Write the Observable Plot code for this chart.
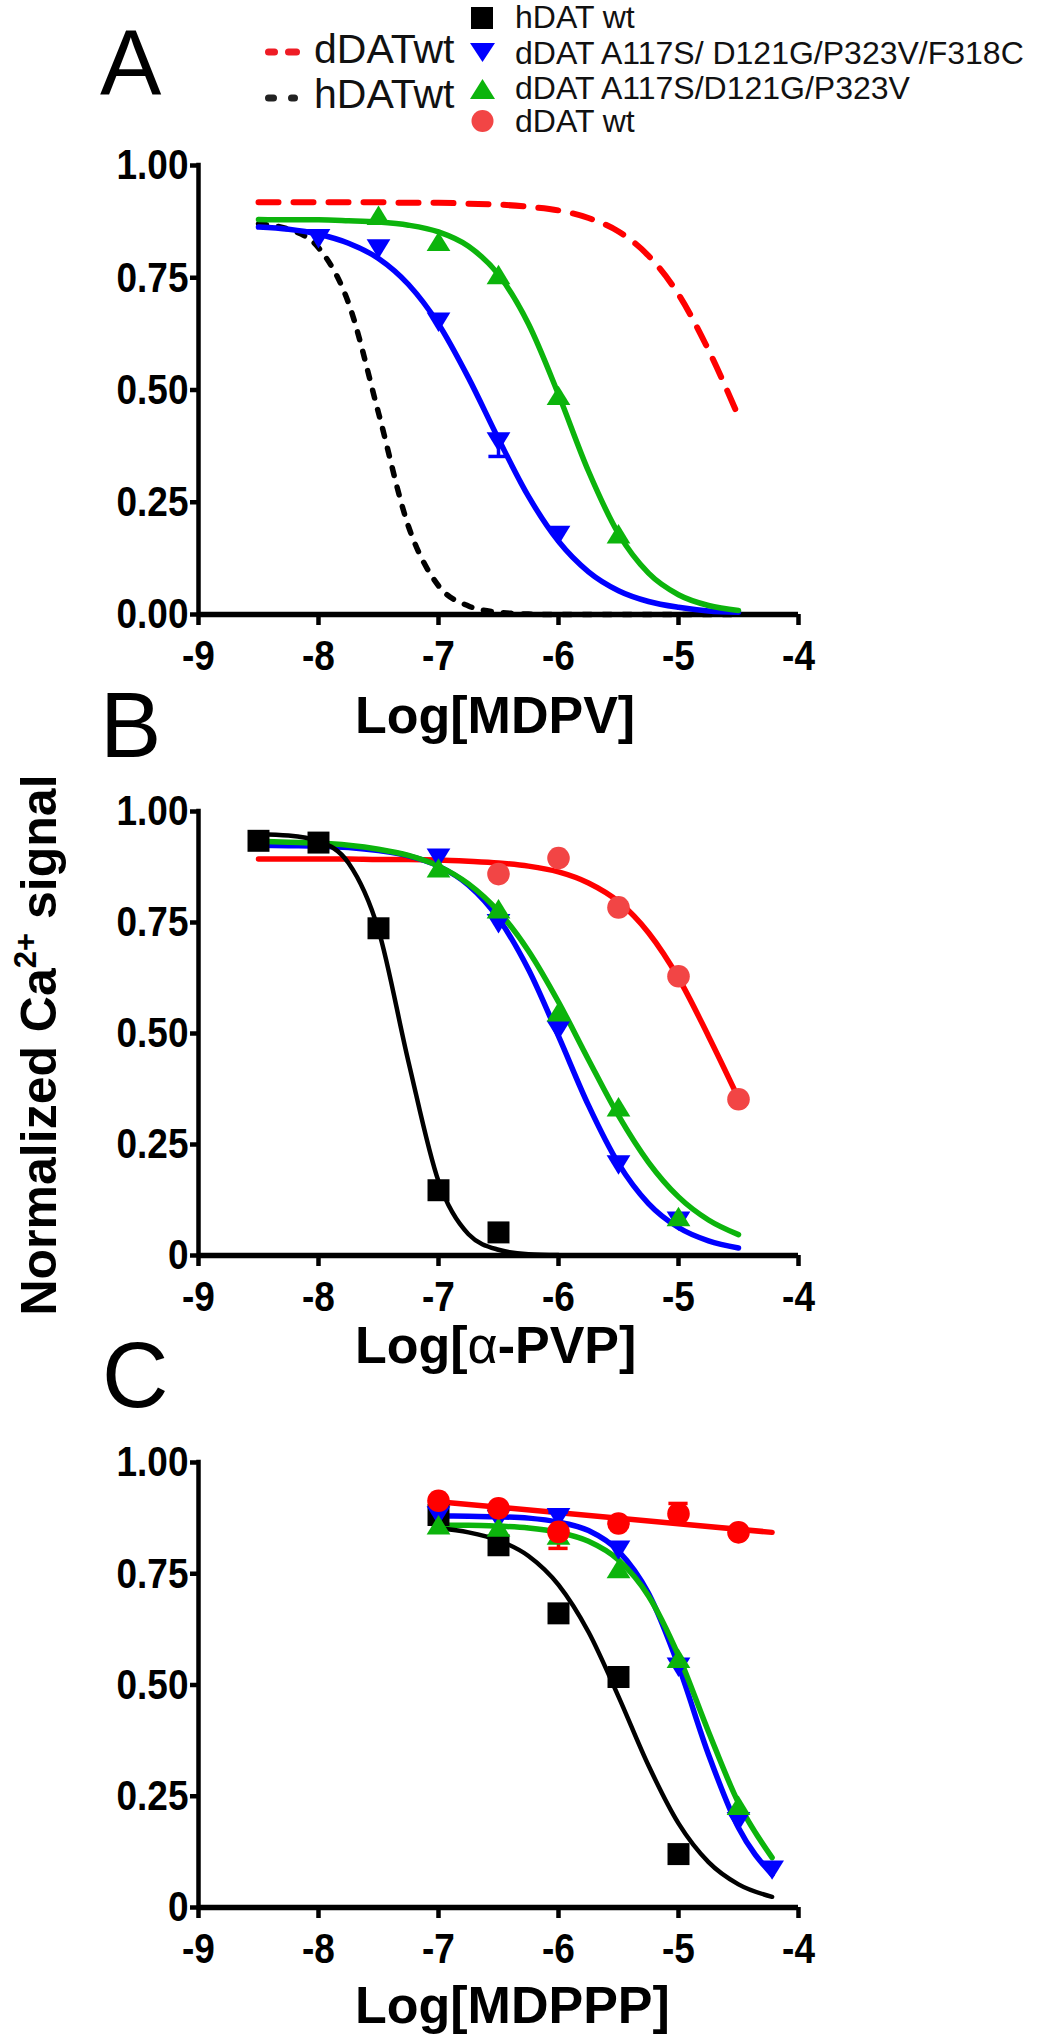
<!DOCTYPE html>
<html>
<head>
<meta charset="utf-8">
<script src="https://cdn.jsdelivr.net/npm/d3@7"></script>
<script src="https://cdn.jsdelivr.net/npm/@observablehq/plot@0.6"></script>
<style>
  body { margin: 0; background: #fff; }
  #fig { position: relative; width: 1043px; height: 2040px; overflow: hidden; background: #fff; }
  #fig > svg.panel { position: absolute; left: 0; }
  #overlay { position: absolute; left: 0; top: 0; pointer-events: none; }
</style>
</head>
<body>
<div id="fig"></div>
<script>
// ---------------- axes ----------------
const xTicks = [-9, -8, -7, -6, -5, -4];
const yTicks = [0, 0.25, 0.5, 0.75, 1];
const yLabelsA = ["0.00", "0.25", "0.50", "0.75", "1.00"];
const yLabelsBC = ["0", "0.25", "0.50", "0.75", "1.00"];

// ---------------- fitted curves ----------------
const gridAB = [-8.5, -8.25, -8, -7.75, -7.5, -7.25, -7, -6.75, -6.5, -6.25, -6, -5.75, -5.5, -5.25, -5, -4.75, -4.5];
const gridC = [-7, -6.75, -6.5, -6.25, -6, -5.75, -5.5, -5.25, -5, -4.75, -4.5, -4.22];

// Panel A — MDPV
const A_redDashCurve   = [0.918, 0.918, 0.918, 0.918, 0.918, 0.917, 0.917, 0.915, 0.913, 0.908, 0.900, 0.883, 0.853, 0.799, 0.713, 0.589, 0.441];
const A_blackDashCurve = [0.870, 0.858, 0.817, 0.694, 0.449, 0.196, 0.064, 0.019, 0.005, 0.001, 0, 0, 0, 0, 0, 0, 0];
const A_blueCurve      = [0.863, 0.858, 0.847, 0.827, 0.793, 0.735, 0.647, 0.527, 0.391, 0.263, 0.163, 0.095, 0.053, 0.029, 0.016, 0.008, 0.005];
const A_greenCurve     = [0.880, 0.879, 0.879, 0.877, 0.874, 0.867, 0.852, 0.820, 0.757, 0.647, 0.490, 0.319, 0.180, 0.092, 0.044, 0.020, 0.009];
const A_blueX  = [-8, -7.5, -7, -6.5, -6];
const A_blueY  = [0.837, 0.814, 0.651, 0.384, 0.176];
const A_greenX = [-7.5, -7, -6.5, -6, -5.5];
const A_greenY = [0.889, 0.831, 0.757, 0.488, 0.180];
const A_blueErrX = [-6.5];
const A_blueErrEnd = [0.352];

// Panel B — alpha-PVP
const B_blackCurve = [0.949, 0.946, 0.933, 0.884, 0.733, 0.436, 0.167, 0.048, 0.013, 0.003, 0.001];
const B_blueCurve  = [0.924, 0.923, 0.922, 0.919, 0.912, 0.900, 0.877, 0.834, 0.759, 0.644, 0.494, 0.338, 0.207, 0.117, 0.063, 0.033, 0.017];
const B_greenCurve = [0.933, 0.931, 0.929, 0.924, 0.915, 0.901, 0.877, 0.837, 0.775, 0.686, 0.571, 0.441, 0.315, 0.210, 0.132, 0.080, 0.047];
const B_redCurve   = [0.893, 0.893, 0.893, 0.893, 0.892, 0.892, 0.891, 0.888, 0.884, 0.877, 0.864, 0.839, 0.797, 0.727, 0.625, 0.494, 0.354];
const B_blackX = [-8.5, -8, -7.5, -7, -6.5];
const B_blackY = [0.934, 0.930, 0.737, 0.147, 0.052];
const B_blueX  = [-7, -6.5, -6, -5.5, -5];
const B_blueY  = [0.895, 0.747, 0.507, 0.204, 0.077];
const B_greenX = [-7, -6.5, -6, -5.5, -5];
const B_greenY = [0.873, 0.781, 0.549, 0.335, 0.088];
const B_redX   = [-6.5, -6, -5.5, -5, -4.5];
const B_redY   = [0.859, 0.895, 0.784, 0.629, 0.352];

// Panel C — MDPPP
const C_blackCurve = [0.852, 0.843, 0.825, 0.790, 0.725, 0.619, 0.474, 0.319, 0.189, 0.102, 0.052, 0.024];
const C_blueCurve  = [0.880, 0.879, 0.878, 0.875, 0.866, 0.847, 0.801, 0.706, 0.543, 0.344, 0.179, 0.074];
const C_greenCurve = [0.859, 0.859, 0.857, 0.853, 0.843, 0.823, 0.781, 0.700, 0.566, 0.395, 0.235, 0.112];
const C_redLineX = [-7, -4.22];
const C_redLineY = [0.912, 0.843];
const C_blackX = [-7, -6.5, -6, -5.5, -5];
const C_blackY = [0.882, 0.814, 0.661, 0.518, 0.120];
const C_blueX  = [-7, -6.5, -6, -5.5, -5, -4.5, -4.22];
const C_blueY  = [0.880, 0.872, 0.876, 0.803, 0.540, 0.193, 0.084];
const C_greenX = [-7, -6.5, -6, -5.5, -5, -4.5];
const C_greenY = [0.860, 0.855, 0.837, 0.762, 0.560, 0.230];
const C_redX   = [-7, -6.5, -6, -5.5, -5, -4.5];
const C_redY   = [0.914, 0.897, 0.844, 0.863, 0.885, 0.843];
const C_redErrX = [-6, -5];
const C_redErrEnd = [0.807, 0.908];
const C_blueErrX = [-6];
const C_blueErrEnd = [0.888];

// ---------------- styling ----------------
const BLUE = "#0000ff", GREEN = "#0cb40c", RED = "#ff0000", RED_LIGHT = "#f24545", BLACK = "#000000";
const FONT = "'Liberation Sans', Arial, Helvetica, sans-serif";
const FONT_NARROW = "'Liberation Sans Narrow', 'Arial Narrow', 'Liberation Sans', Arial, sans-serif";

const triangleDown = { draw(ctx, size) { const w = Math.sqrt(size) * 1.08, h = w * 0.82; ctx.moveTo(-w / 2, -h / 2); ctx.lineTo(w / 2, -h / 2); ctx.lineTo(0, h / 2); ctx.closePath(); } };
const triangleUp = { draw(ctx, size) { const w = Math.sqrt(size) * 1.08, h = w * 0.82; ctx.moveTo(-w / 2, h / 2); ctx.lineTo(w / 2, h / 2); ctx.lineTo(0, -h / 2); ctx.closePath(); } };
const R_SYM = 12.4, R_CIRC = 11.3;

const zip = (xs, ys) => xs.map((x, i) => ({x, y: ys[i]}));

function curve(xs, ys, stroke, strokeWidth, dash) {
  return Plot.line(zip(xs, ys), {x: "x", y: "y", stroke, strokeWidth, curve: "monotone-x",
    strokeLinecap: "round", strokeLinejoin: "round", strokeDasharray: dash || null});
}
function markers(xs, ys, symbol, fill, r) {
  return Plot.dot(zip(xs, ys), {x: "x", y: "y", symbol, fill, stroke: "none", r});
}
function errorBars(xs, ends, ys, stroke) {
  const d = xs.map((x, i) => ({x, y: ys[i], e: ends[i]}));
  return [
    Plot.ruleX(d, {x: "x", y1: "y", y2: "e", stroke, strokeWidth: 3.5}),
    Plot.ruleY(d, {y: "e", x1: r => r.x - 0.08, x2: r => r.x + 0.08, stroke, strokeWidth: 3.5})
  ];
}
function axes(yLabels) {
  const lab = new Map(yTicks.map((t, i) => [t, yLabels[i]]));
  return [
    Plot.ruleX([-9], {y1: 0, y2: 1, strokeWidth: 4.5, strokeLinecap: "square"}),
    Plot.ruleY([0], {x1: -9, x2: -4, strokeWidth: 5.5, strokeLinecap: "butt"}),
    Plot.axisX({ticks: xTicks, tickSize: 11, tickPadding: 14, strokeWidth: 4.5, tickFormat: d => String(d),
      fontSize: 43, fontWeight: "bold", fontFamily: FONT_NARROW, label: null}),
    Plot.axisY({ticks: yTicks, tickSize: 8, tickPadding: 2, strokeWidth: 4.5, tickFormat: d => lab.get(d),
      fontSize: 43, fontWeight: "bold", fontFamily: FONT_NARROW, label: null})
  ];
}
function condense(svg) {
  // the reference uses a condensed bold face for tick labels: squeeze each label about its own anchor
  const k = 0.86;
  const squeeze = (sel, anchorRight) => svg.querySelectorAll(sel).forEach(t => {
    let b; try { b = t.getBBox(); } catch (e) { return; }
    if (!b || !b.width) return;
    const a = anchorRight ? b.x + b.width : b.x + b.width / 2;
    const prev = t.getAttribute("transform") || "";
    t.setAttribute("transform", `${prev} translate(${a},0) scale(${k},1) translate(${-a},0)`);
  });
  squeeze('g[aria-label="y-axis tick label"] text', true);
  squeeze('g[aria-label="x-axis tick label"] text', false);
}
function panel(height, marginTop, marginBottom, marks, yLabels, top) {
  const svg = Plot.plot({
    width: 1043, height, marginLeft: 198, marginRight: 245, marginTop, marginBottom,
    x: {domain: [-9, -4]}, y: {domain: [0, 1]},
    style: {background: "transparent", overflow: "visible", fontFamily: FONT, color: "#000"},
    marks: [...axes(yLabels), ...marks]
  });
  svg.classList.add("panel");
  svg.style.top = top + "px";
  document.getElementById("fig").appendChild(svg);
  condense(svg);
  return svg;
}

// Panel A
panel(700, 165, 86, [
  curve(gridAB, A_redDashCurve, RED, 6, "20,15"),
  curve(gridAB, A_blackDashCurve, BLACK, 5.5, "8,12"),
  curve(gridAB, A_blueCurve, BLUE, 5.5),
  curve(gridAB, A_greenCurve, GREEN, 5.5),
  ...errorBars(A_blueErrX, A_blueErrEnd, [A_blueY[A_blueX.indexOf(-6.5)]], BLUE),
  markers(A_blueX, A_blueY, triangleDown, BLUE, R_SYM),
  markers(A_greenX, A_greenY, triangleUp, GREEN, R_SYM)
], yLabelsA, 0);

// Panel B
panel(640, 111, 85, [
  curve(gridAB, B_redCurve, RED, 5.5),
  curve(gridAB, B_blueCurve, BLUE, 5.5),
  curve(gridAB, B_greenCurve, GREEN, 5.5),
  curve(gridAB.slice(0, B_blackCurve.length), B_blackCurve, BLACK, 4.5),
  markers(B_blackX, B_blackY, "square", BLACK, R_SYM),
  markers(B_blueX, B_blueY, triangleDown, BLUE, R_SYM),
  markers(B_greenX, B_greenY, triangleUp, GREEN, R_SYM),
  markers(B_redX, B_redY, "circle", RED_LIGHT, R_CIRC)
], yLabelsBC, 700);

// Panel C
panel(690, 112, 133, [
  Plot.line(zip(C_redLineX, C_redLineY), {x: "x", y: "y", stroke: RED, strokeWidth: 5.5, strokeLinecap: "round"}),
  curve(gridC, C_blueCurve, BLUE, 5.5),
  curve(gridC, C_greenCurve, GREEN, 5.5),
  curve(gridC, C_blackCurve, BLACK, 4.5),
  ...errorBars(C_blueErrX, C_blueErrEnd, C_blueErrX.map(x => C_blueY[C_blueX.indexOf(x)]), BLUE),
  ...errorBars(C_redErrX, C_redErrEnd, C_redErrX.map(x => C_redY[C_redX.indexOf(x)]), RED),
  markers(C_blackX, C_blackY, "square", BLACK, R_SYM),
  markers(C_blueX, C_blueY, triangleDown, BLUE, R_SYM),
  markers(C_greenX, C_greenY, triangleUp, GREEN, R_SYM),
  markers(C_redX, C_redY, "circle", RED, R_CIRC)
], yLabelsBC, 1350);

// ---------------- overlay: panel letters, titles, legend ----------------
const legendLeft = [
  {label: "dDATwt", color: "#ee1c25", baseline: 63, y: 52},
  {label: "hDATwt", color: "#222222", baseline: 108, y: 98}
];
const legendRight = [
  {label: "hDAT wt", baseline: 28},
  {label: "dDAT A117S/ D121G/P323V/F318C", baseline: 64},
  {label: "dDAT A117S/D121G/P323V", baseline: 99},
  {label: "dDAT wt", baseline: 132}
];
const axisTitles = [
  {html: "Log[MDPV]", baseline: 733},
  {html: "Log[<tspan font-weight=\"normal\">α</tspan>-PVP]", baseline: 1363},
  {html: "Log[MDPPP]", baseline: 2023}
];
const panelLetters = [
  {t: "A", x: 100, baseline: 95},
  {t: "B", x: 100, baseline: 757},
  {t: "C", x: 102, baseline: 1407}
];

let s = `<svg id="overlay" width="1043" height="2040" font-family="${FONT.replace(/"/g, "")}">`;
for (const l of panelLetters) s += `<text x="${l.x}" y="${l.baseline}" font-size="92">${l.t}</text>`;
for (const a of axisTitles) s += `<text x="355" y="${a.baseline}" font-size="52" font-weight="bold">${a.html}</text>`;
s += `<text transform="translate(56,1045) rotate(-90)" text-anchor="middle" font-size="50" font-weight="bold">Normalized Ca<tspan dy="-20" font-size="31">2+</tspan><tspan dy="20"> signal</tspan></text>`;
// left legend (line styles)
s += `<line x1="268.5" x2="274.5" y1="${legendLeft[0].y}" y2="${legendLeft[0].y}" stroke="${legendLeft[0].color}" stroke-width="7" stroke-linecap="round"/>`;
s += `<line x1="288.5" x2="296.5" y1="${legendLeft[0].y}" y2="${legendLeft[0].y}" stroke="${legendLeft[0].color}" stroke-width="7" stroke-linecap="round"/>`;
s += `<line x1="268.5" x2="273.5" y1="${legendLeft[1].y}" y2="${legendLeft[1].y}" stroke="${legendLeft[1].color}" stroke-width="7" stroke-linecap="round"/>`;
s += `<line x1="291.5" x2="294.5" y1="${legendLeft[1].y}" y2="${legendLeft[1].y}" stroke="${legendLeft[1].color}" stroke-width="7" stroke-linecap="round"/>`;
for (const l of legendLeft) s += `<text x="314" y="${l.baseline}" font-size="41" font-family="${FONT_NARROW.replace(/"/g, "")}" fill="#111">${l.label}</text>`;
// right legend (symbols)
s += `<rect x="471" y="7" width="22" height="22" fill="${BLACK}"/>`;
s += `<path d="M470,43L495,43L482.5,62Z" fill="${BLUE}"/>`;
s += `<path d="M470,99L495,99L482.5,79Z" fill="${GREEN}"/>`;
s += `<circle cx="482.5" cy="121" r="11" fill="${RED_LIGHT}"/>`;
for (const l of legendRight) s += `<text x="515" y="${l.baseline}" font-size="32" fill="#111">${l.label}</text>`;
s += `</svg>`;
document.getElementById("fig").insertAdjacentHTML("beforeend", s);
</script>
</body>
</html>
